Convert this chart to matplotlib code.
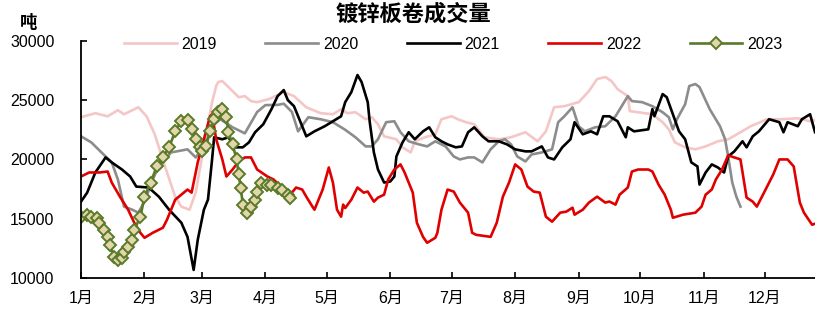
import matplotlib
matplotlib.use("Agg")
import matplotlib.pyplot as plt

plt.rcParams['font.family'] = ['Liberation Sans', 'Noto Sans CJK SC', 'DejaVu Sans']

# day of year (0 = 1月1日), value in 吨
d2019 = [0, 7, 13, 18, 21, 28, 32, 36, 41, 46, 49, 53, 56, 60, 64, 66, 67, 69, 74, 77, 80, 83, 86,
         92, 99, 104, 110, 117, 123, 127, 130, 134, 139, 142, 145, 148, 154, 157, 161, 163, 168, 173,
         176, 181, 184, 188, 192, 197, 204, 210, 217, 223, 227, 231, 236, 243, 248, 252, 256, 259,
         262, 267, 268, 272, 279, 284, 287, 290, 295, 300, 305, 311, 316, 322, 327, 335, 342, 350,
         356, 358.4]
v2019 = [23560, 23900, 23640, 24150, 23810, 24400, 23640, 22120, 19410, 16860, 16020, 15760, 17200,
         21100, 24830, 26190, 26530, 26610, 25760, 25250, 25340, 24920, 24830, 25100, 25680, 25340,
         24400, 23900, 23810, 24240, 23900, 23980, 23390, 23560, 22970, 21950, 21700, 21020, 20590,
         21530, 21870, 22120, 23390, 23640, 23390, 23140, 22970, 21870, 21700, 21870, 22290, 21530,
         22370, 24400, 24490, 24830, 25760, 26780, 26950, 26610, 25930, 25340, 24070, 23980, 23810,
         23140, 22540, 21440, 21020, 20850, 21100, 21530, 21700, 22290, 22800, 23390, 23390, 23470,
         23220, 23300]

d2020 = [0, 5, 10, 15, 18, 21, 25, 28, 31, 35, 38, 44, 52, 56, 57, 60, 64, 68, 74, 80, 86, 90, 96,
         99, 103, 106, 111, 117, 123, 129, 134, 139, 142, 145, 149, 153, 156, 160, 165, 169, 173, 178,
         182, 185, 189, 192, 196, 200, 204, 207, 210, 213, 217, 220, 225, 230, 233, 236, 240, 243, 246,
         251, 256, 261, 267, 269, 274, 279, 284, 287, 289, 291, 295, 297, 300, 302, 307, 312, 314.5,
         316, 318, 320, 322]
v2020 = [21950, 21440, 20590, 19750, 18310, 16020, 15760, 15510, 16440, 18310, 19410, 20590, 20850,
         20170, 20400, 21000, 22800, 23390, 22710, 22200, 24000, 24580, 24600, 24700, 24000, 22370,
         23560, 23390, 23140, 22500, 21870, 21100, 21100, 21700, 23140, 23220, 22290, 21530, 21270,
         21100, 21530, 21100, 20250, 20000, 20170, 20170, 19750, 20850, 21530, 21700, 21270, 20250,
         19830, 20420, 20590, 20850, 23140, 23640, 24400, 22800, 22370, 22710, 22800, 23640, 25340,
         24920, 24830, 24490, 23980, 23560, 22540, 23390, 24660, 26190, 26360, 26100, 24240, 22800,
         21700, 20250, 18050, 16860, 16020]

d2021 = [0, 3, 7, 12, 15, 20, 24, 27, 33, 38, 43, 49, 52, 55, 57, 60, 62, 64, 65, 69, 72, 75, 79,
         82, 85, 89, 93, 96, 99, 101, 104, 108, 110, 114, 119, 123, 127, 129, 132, 135, 137, 140, 141,
         143, 145, 148, 151, 153, 154, 157, 160, 163, 167, 170, 173, 176, 179, 183, 186, 189, 192,
         196, 199, 204, 208, 212, 217, 220, 225, 228, 231, 235, 239, 241, 245, 249, 252, 255, 258,
         262, 266, 267, 270, 277, 279, 280, 284, 286, 289, 292, 295, 298, 301, 302, 305, 308, 311,
         314, 316, 319, 323, 325, 328, 331, 336, 341, 343, 345, 350, 352, 356, 358.4]
v2021 = [16440, 17200, 18900, 20170, 19750, 19150, 18560, 17710, 17630, 16860, 15760, 14660, 13470,
         10680, 13220, 15760, 16610, 20000, 21870, 21700, 21870, 21020, 21020, 21440, 22290, 22970,
         24240, 25340, 25850, 25000, 24490, 22800, 21950, 22370, 22800, 23220, 23640, 24830, 25680,
         27120, 26530, 24830, 23140, 20590, 19150, 18050, 18140, 18560, 20250, 21440, 22290, 21700,
         22370, 22710, 21870, 21530, 21270, 21020, 21100, 22290, 22710, 21950, 21530, 21530, 21270,
         20850, 20680, 20680, 21100, 20170, 20000, 21020, 21700, 23140, 22120, 22370, 22120, 23640,
         23640, 23220, 21870, 22710, 22370, 22540, 24240, 23640, 25510, 25250, 23810, 22370, 21700,
         19750, 19410, 17880, 18900, 19580, 19320, 18900, 20250, 20680, 21530, 21020, 21950, 22370,
         23390, 23140, 22290, 23140, 22800, 23390, 23810, 22300]

d2022 = [0, 4, 9, 13, 15, 19, 23, 26, 29, 31, 35, 40, 42, 46, 49, 52, 54, 57, 60, 63, 64, 66, 69,
         71, 74, 77, 80, 83, 86, 91, 94, 98, 103, 105, 108, 110, 113, 114, 118, 121, 123, 125, 127,
         128, 129, 132, 135, 138, 140, 143, 145, 148, 150, 153, 156, 158, 162, 164, 167, 169, 173,
         174, 176, 179, 182, 185, 189, 191, 193, 200, 203, 206, 209, 212, 215, 218, 221, 224, 227,
         230, 234, 237, 240, 241, 245, 248, 252, 256, 258, 261, 263, 267, 269, 272, 277, 279, 282,
         285, 288, 289, 294, 300, 303, 305, 308, 310, 313, 316, 322, 325, 328, 330, 333, 335, 338,
         341, 345, 348, 351, 353, 357, 358.4]
v2022 = [18560, 18900, 18900, 18980, 18050, 16860, 15760, 14660, 13810, 13390, 13810, 14240, 14920,
         16610, 17030, 17460, 17200, 19750, 21700, 23640, 23800, 21700, 20000, 18560, 19150, 19830,
         20170, 20170, 19150, 18560, 18310, 17630, 17200, 17630, 17460, 16860, 16020, 15760, 17460,
         19320, 18050, 15760, 15170, 16190, 15900, 16610, 17630, 17200, 17290, 16440, 16780, 17030,
         18310, 19150, 19580, 18900, 17200, 14660, 13470, 12970, 13390, 13810, 15760, 17460, 17290,
         16360, 15510, 13810, 13640, 13470, 14660, 16860, 18050, 19580, 19150, 17710, 17290, 17200,
         15170, 14750, 15510, 15600, 15930, 15340, 15760, 16360, 16860, 16360, 16450, 16190, 17030,
         17630, 18980, 19150, 19150, 18980, 17880, 17030, 15760, 15080, 15340, 15510, 16020, 17030,
         17460, 18310, 19150, 20340, 20000, 16780, 16440, 16020, 17030, 17710, 18730, 20000, 20000,
         19410, 16360, 15510, 14490, 14580]

d2023 = [0, 3, 5, 8, 9, 11, 13, 14, 16, 18, 20, 21, 23, 25, 26, 29, 31, 34, 37, 40, 43, 46, 49, 52,
         54, 56, 58, 59, 61, 63, 65, 67, 69, 71, 72, 74, 76, 77, 78, 79, 81, 83, 85, 86, 88, 91, 93,
         96, 98, 101, 102]
v2023 = [15170, 15340, 15170, 15080, 14660, 14070, 13470, 12800, 11780, 11530, 11700, 12200, 12630,
         13220, 14070, 15170, 16860, 18050, 19410, 20170, 21020, 22370, 23220, 23300, 22540, 21700,
         21020, 20700, 21100, 22370, 23390, 23980, 24240, 23560, 22300, 21270, 20000, 18730, 17630,
         16190, 15510, 16020, 16610, 17290, 18050, 17880, 17880, 17630, 17460, 17030, 16780]

month_start = [0, 31, 59, 90, 120, 151, 181, 212, 243, 273, 304, 334]
month_labels = ['1月', '2月', '3月', '4月', '5月', '6月', '7月', '8月', '9月', '10月', '11月', '12月']

fig = plt.figure(figsize=(8.15, 3.12), dpi=100)
ax = fig.add_axes([0.0994, 0.109, 0.9006, 0.76])

ax.plot(d2019, v2019, color='#F5C6C6', lw=1.9, label='2019')
ax.plot(d2020, v2020, color='#8C8C8C', lw=1.9, label='2020')
ax.plot(d2021, v2021, color='#000000', lw=1.9, label='2021')
ax.plot(d2022, v2022, color='#E00000', lw=1.9, label='2022')
ax.plot(d2023, v2023, color='#5A7A2A', lw=1.9, marker='D', markersize=6.5,
        markerfacecolor='#E2D6AA', markeredgecolor='#5A7A2A', markeredgewidth=1.4, label='2023')

ax.set_xlim(0, 358.4)
ax.set_ylim(10000, 30000)
ax.set_yticks([10000, 15000, 20000, 25000, 30000])
ax.set_xticks(month_start)
ax.set_xticklabels(month_labels)
ax.tick_params(axis='both', direction='in', labelsize=11.5, color='black', width=1.2, length=4)
ax.tick_params(axis='y', pad=19)
ax.tick_params(axis='x', pad=9)
for s in ['top', 'right']:
    ax.spines[s].set_visible(False)
for s in ['left', 'bottom']:
    ax.spines[s].set_linewidth(1.3)

ax.legend(loc='center', bbox_to_anchor=(0.507, 0.985), ncol=5, frameon=False, fontsize=11.5,
          handlelength=3.3, handletextpad=0.3, columnspacing=3.05)

fig.text(0.507, 0.955, '镀锌板卷成交量', ha='center', va='center', fontsize=16, fontweight='bold',
         family=['Noto Sans CJK SC', 'DejaVu Sans'])
fig.text(0.035, 0.926, '吨', ha='center', va='center', fontsize=12.5, fontweight='bold',
         family=['Noto Sans CJK SC', 'DejaVu Sans'])

fig.savefig('out.png', dpi=100)
